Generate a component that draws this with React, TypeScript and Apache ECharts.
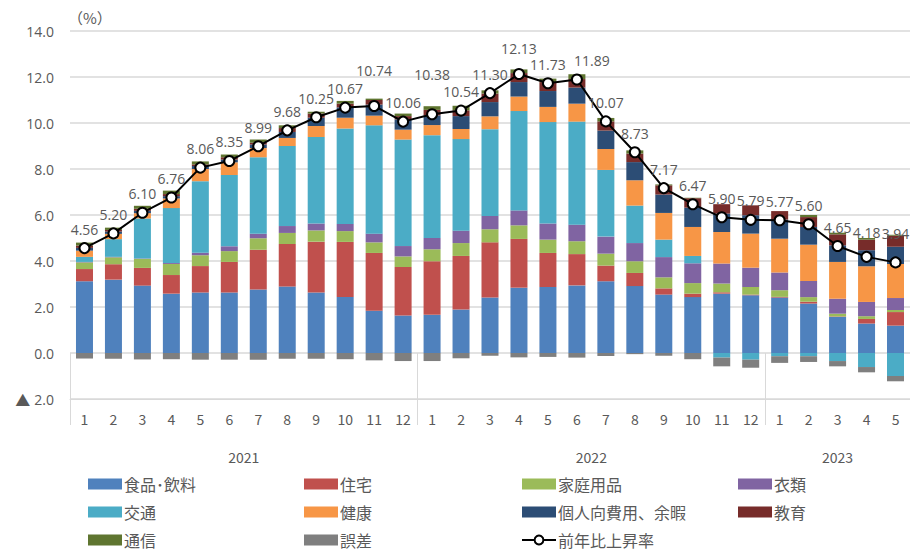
import React, { useEffect, useRef } from 'react';
import * as echarts from 'echarts';

const months = ['1','2','3','4','5','6','7','8','9','10','11','12','1','2','3','4','5','6','7','8','9','10','11','12','1','2','3','4','5'];
const years = ['2021', '2022', '2023'];
const yearSpans = [12, 12, 5];

const food =      [3.12,3.19,2.93,2.58,2.63,2.63,2.76,2.89,2.63,2.43,1.84,1.63,1.66,1.89,2.41,2.84,2.87,2.94,3.12,2.91,2.54,2.43,2.58,2.51,2.41,2.15,1.57,1.28,1.19];
const housing =   [0.53,0.67,0.77,0.81,1.15,1.33,1.73,1.85,2.21,2.40,2.51,2.11,2.33,2.33,2.40,2.12,1.48,1.36,0.68,0.57,0.27,0.15,0.06,0.03,0.03,0.08,0.02,0.20,0.59];
const household = [0.29,0.30,0.39,0.48,0.47,0.47,0.50,0.48,0.49,0.47,0.46,0.46,0.52,0.56,0.57,0.59,0.58,0.56,0.52,0.51,0.48,0.46,0.38,0.33,0.29,0.20,0.12,0.12,0.09];
const clothing =  [0.02,0.02,0.02,0.04,0.11,0.21,0.20,0.30,0.30,0.31,0.38,0.45,0.49,0.54,0.58,0.65,0.70,0.72,0.74,0.79,0.88,0.86,0.87,0.84,0.77,0.70,0.65,0.62,0.52];
const transport = [0.22,0.77,1.74,2.39,3.11,3.10,3.32,3.48,3.76,4.15,4.71,4.63,4.47,3.98,3.77,4.32,4.41,4.48,2.90,1.63,0.76,0.32,-0.20,-0.29,-0.14,-0.14,-0.35,-0.61,-1.00];
const health =    [0.27,0.23,0.23,0.42,0.53,0.55,0.40,0.35,0.48,0.47,0.42,0.43,0.44,0.44,0.56,0.63,0.66,0.78,0.91,1.10,1.16,1.26,1.37,1.48,1.47,1.58,1.60,1.55,1.48];
const leisure =   [0.12,0.10,0.10,0.10,0.13,0.12,0.15,0.26,0.36,0.45,0.48,0.45,0.42,0.56,0.62,0.63,0.69,0.70,0.80,0.79,0.80,0.84,0.80,0.80,0.83,0.77,0.72,0.70,0.75];
const education = [0.10,0.07,0.09,0.09,0.07,0.10,0.08,0.17,0.18,0.16,0.20,0.14,0.24,0.25,0.37,0.39,0.39,0.37,0.40,0.37,0.40,0.41,0.41,0.43,0.37,0.43,0.48,0.46,0.48];
const telecom =   [0.13,0.10,0.13,0.15,0.13,0.12,0.14,0.12,0.08,0.12,0.06,0.11,0.16,0.20,0.14,0.16,0.15,0.21,0.15,0.14,0.04,0.02,0.00,0.00,0.00,0.09,0.07,0.07,0.04];
const residual =  [-0.24,-0.25,-0.28,-0.27,-0.29,-0.29,-0.29,-0.25,-0.25,-0.27,-0.32,-0.35,-0.35,-0.23,-0.12,-0.19,-0.17,-0.20,-0.13,-0.05,-0.12,-0.27,-0.38,-0.35,-0.29,-0.25,-0.23,-0.23,-0.23];
const yoy = [4.56,5.20,6.10,6.76,8.06,8.35,8.99,9.68,10.25,10.67,10.74,10.06,10.38,10.54,11.30,12.13,11.73,11.89,10.07,8.73,7.17,6.47,5.90,5.79,5.77,5.60,4.65,4.18,3.94];

const FONT = '"Noto Sans CJK JP", "Noto Sans", sans-serif';
const NUM_FONT = '"Open Sans", "Noto Sans", sans-serif';
const TEXT = '#595959';
const GRID_LINE = '#d9d9d9';

const barSeries = [
  { name: '食品･飲料', data: food, color: '#4F81BD' },
  { name: '住宅', data: housing, color: '#C0504D' },
  { name: '家庭用品', data: household, color: '#9BBB59' },
  { name: '衣類', data: clothing, color: '#8064A2' },
  { name: '交通', data: transport, color: '#4BACC6' },
  { name: '健康', data: health, color: '#F79646' },
  { name: '個人向費用、余暇', data: leisure, color: '#2C4D75' },
  { name: '教育', data: education, color: '#772C2A' },
  { name: '通信', data: telecom, color: '#5F7530' },
  { name: '誤差', data: residual, color: '#7F7F7F' },
];
const LINE_NAME = '前年比上昇率';

const legendColumns = [
  ['食品･飲料', '交通', '通信'],
  ['住宅', '健康', '誤差'],
  ['家庭用品', '個人向費用、余暇', LINE_NAME],
  ['衣類', '教育'],
];
const legendLefts = [88, 304, 521, 738];

// label placement tweaks (style only)
const labelNudge: Record<number, number[]> = {
  10: [0, -16],
  12: [0, -21],
  15: [0, -7],
  17: [15, 0],
  27: [0, -5],
  28: [0, -10],
};

export default function App() {
  const ref = useRef<HTMLDivElement>(null);

  useEffect(() => {
    if (!ref.current) return;
    const chart = echarts.init(ref.current, undefined, { renderer: 'svg' });

    const yearCenters: number[] = [];
    const yearBounds: number[] = [0];
    let acc = 0;
    yearSpans.forEach((s) => {
      yearCenters.push(acc + s / 2);
      acc += s;
      yearBounds.push(acc);
    });

    const option: any = {
      animation: false,
      backgroundColor: '#ffffff',
      textStyle: { fontFamily: FONT },
      grid: { left: 70, right: 0, top: 31, bottom: 153, containLabel: false },
      legend: legendColumns.map((col, ci) => ({
        orient: 'vertical',
        left: legendLefts[ci],
        top: 476,
        itemGap: 12,
        itemWidth: 34,
        itemHeight: 11,
        selectedMode: false,
        padding: 0,
        textStyle: { color: TEXT, fontSize: 16, fontFamily: FONT, lineHeight: 16, padding: [0, 0, 0, -3] },
        data: col.map((n) => (n === LINE_NAME ? { name: n } : { name: n, icon: 'rect' })),
      })),
      xAxis: [
        {
          type: 'category',
          data: months,
          position: 'bottom',
          axisLine: { show: true, onZero: false, lineStyle: { color: GRID_LINE, width: 1 } },
          axisTick: { show: false },
          axisLabel: { color: TEXT, fontSize: 14, fontFamily: FONT, margin: 13, interval: 0 },
          splitLine: { show: false },
        },
        {
          type: 'value',
          min: 0,
          max: months.length,
          position: 'bottom',
          axisLine: { show: false },
          axisTick: {
            show: true,
            customValues: yearBounds,
            length: 72,
            lineStyle: { color: GRID_LINE, width: 1 },
          },
          axisLabel: {
            customValues: yearCenters,
            color: TEXT,
            fontSize: 14,
            fontFamily: FONT,
            margin: 51,
            formatter: (v: number) => {
              const i = yearCenters.findIndex((c) => Math.abs(c - v) < 1e-6);
              return i >= 0 ? years[i] : '';
            },
          },
          splitLine: { show: false },
        },
      ],
      yAxis: {
        type: 'value',
        min: -2,
        max: 14,
        interval: 2,
        name: '（%）',
        nameLocation: 'end',
        nameGap: 6,
        nameTextStyle: { color: TEXT, fontSize: 15, fontFamily: FONT, align: 'left', padding: [0, 0, 0, -2] },
        axisLine: { show: false },
        axisTick: { show: false },
        axisLabel: {
          color: TEXT,
          fontSize: 14,
          fontFamily: NUM_FONT,
          margin: 16,
          formatter: (v: number) => (v < 0 ? '{t|▲}' + Math.abs(v).toFixed(1) : v.toFixed(1)),
          rich: {
            t: { fontFamily: FONT, fontSize: 15, color: TEXT, padding: [0, 4, 0, 0] },
          },
        },
        splitLine: { lineStyle: { color: GRID_LINE, width: 1.5 } },
      },
      series: [
        ...barSeries.map((s) => ({
          name: s.name,
          type: 'bar',
          stack: 'total',
          barWidth: 17,
          data: s.data,
          itemStyle: { color: s.color },
          emphasis: { disabled: true },
        })),
        {
          name: LINE_NAME,
          type: 'line',
          data: yoy.map((v, i) => (labelNudge[i] ? { value: v, label: { offset: labelNudge[i] } } : v)),
          z: 10,
          symbol: 'circle',
          symbolSize: 10,
          lineStyle: { color: '#000000', width: 2 },
          itemStyle: { color: '#ffffff', borderColor: '#000000', borderWidth: 2 },
          label: {
            show: true,
            position: 'top',
            distance: 6,
            color: TEXT,
            fontSize: 14,
            fontFamily: NUM_FONT,
            formatter: (p: any) => Number(p.value).toFixed(2),
          },
          emphasis: { disabled: true },
        },
      ],
    };

    chart.setOption(option);
    return () => chart.dispose();
  }, []);

  return (
    <div
      ref={ref}
      style={{ position: 'fixed', left: 0, top: 0, width: 910, height: 552, background: '#fff' }}
    />
  );
}
